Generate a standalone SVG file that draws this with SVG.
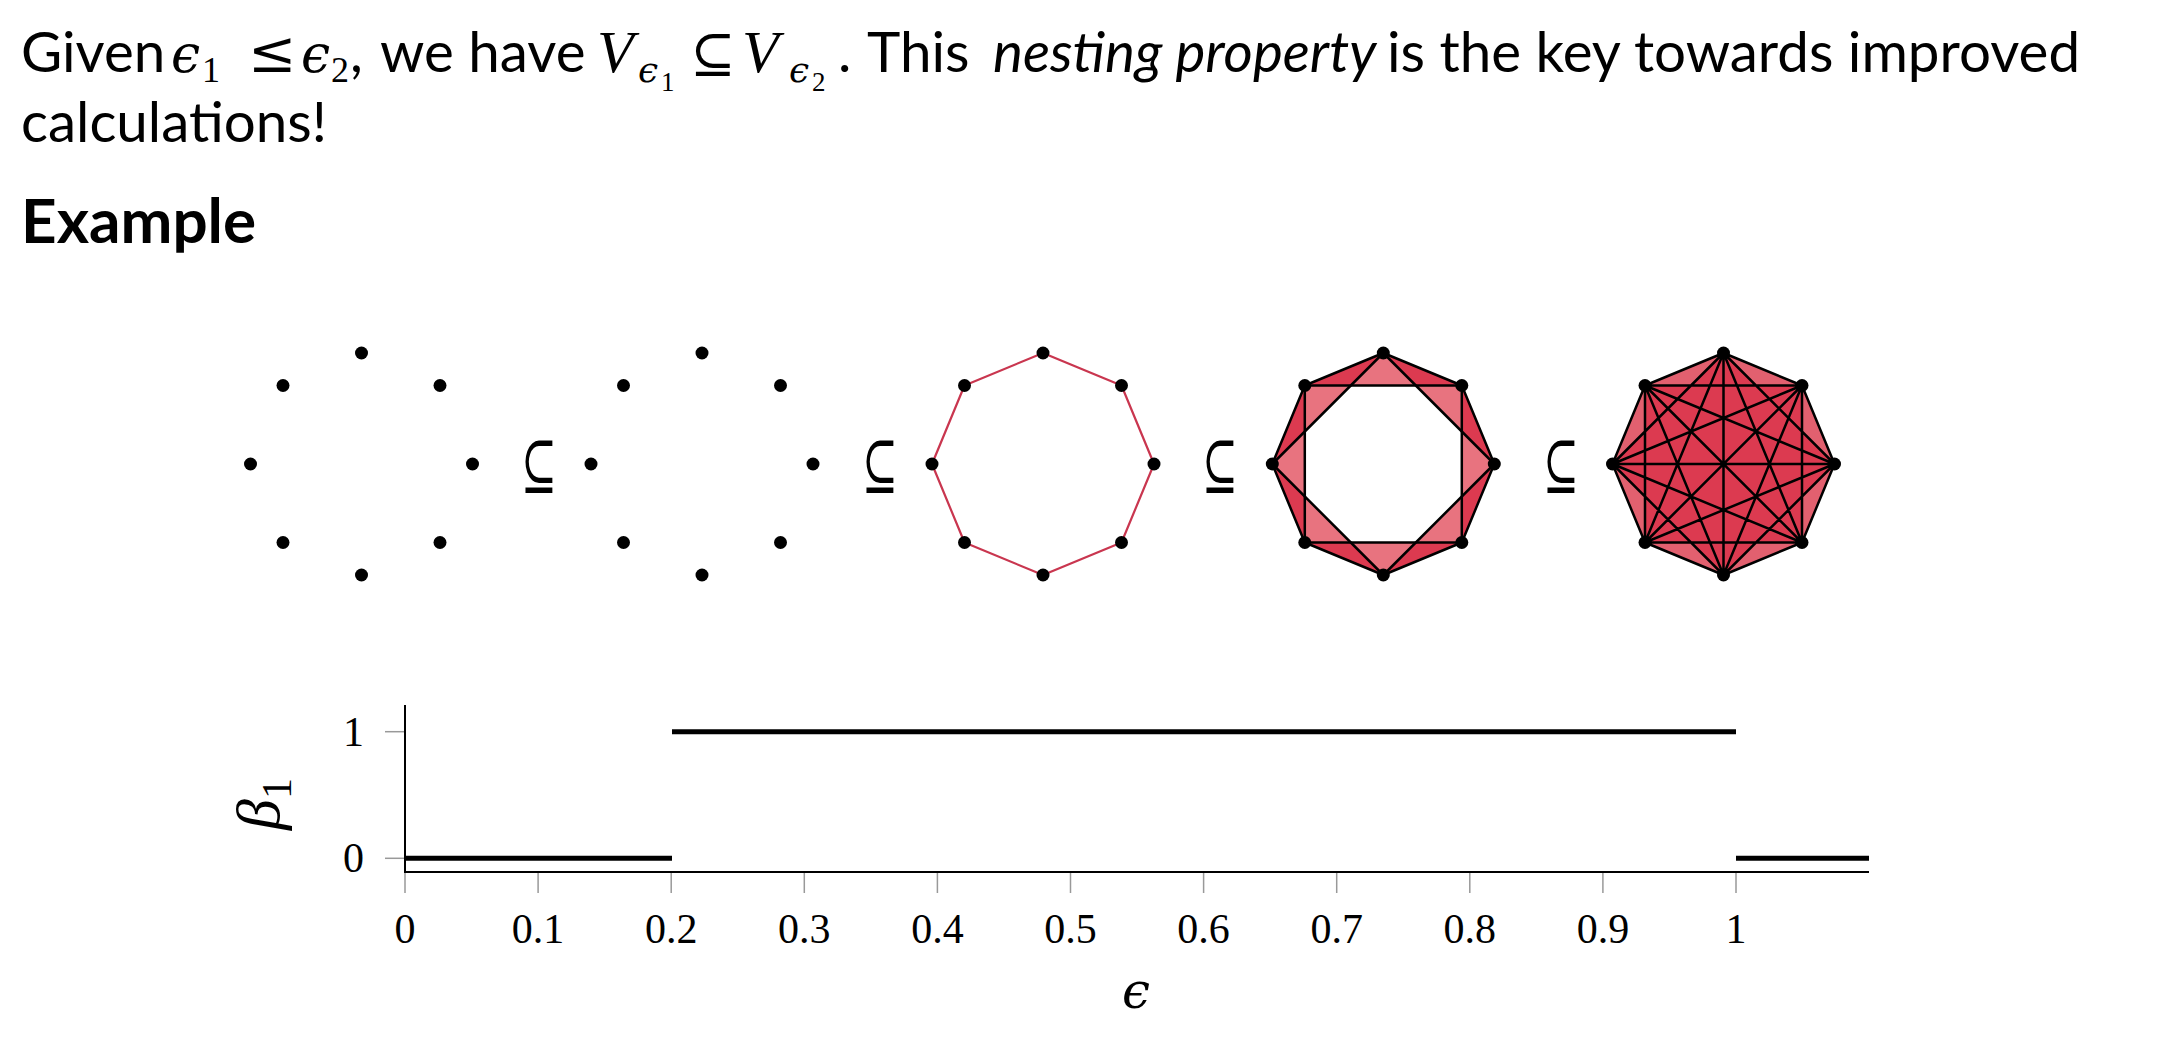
<svg xmlns="http://www.w3.org/2000/svg" width="2180" height="1038" viewBox="0 0 2180 1038">
<style>
.t{font-family:Lato,"Noto Sans",sans-serif;font-size:56.5px;fill:#000}
.b{font-family:Lato,"Noto Sans",sans-serif;font-weight:bold;font-size:62px;fill:#000}
.m{font-family:"Liberation Serif","DejaVu Serif",serif}
.g{font-family:"DejaVu Serif","Liberation Serif",serif}
.it{font-style:italic}
.sub{font-size:36px}
.ss{font-size:27px}
.sq{font-family:"DejaVu Serif","Liberation Serif",serif;font-size:68px;fill:#000}
.edge{fill:none;stroke:#000;stroke-width:2.5;stroke-linejoin:round}
.redge{fill:none;stroke:#C9364F;stroke-width:2.2;stroke-linejoin:round}
.light{fill:#E8737F}
.dark{fill:#DC3A50}
.white{fill:#fff}
.tick{stroke:#999;stroke-width:1.5}
.axis{stroke:#000;stroke-width:2;fill:none}
.step{stroke:#000;stroke-width:5}
.lbl{font-family:"Liberation Serif","DejaVu Serif",serif;font-size:42px;fill:#000}
</style>
<defs>
<g id="dots">
<circle cx="0" cy="-111" r="6.5"/><circle cx="78.5" cy="-78.5" r="6.5"/><circle cx="111" cy="0" r="6.5"/><circle cx="78.5" cy="78.5" r="6.5"/>
<circle cx="0" cy="111" r="6.5"/><circle cx="-78.5" cy="78.5" r="6.5"/><circle cx="-111" cy="0" r="6.5"/><circle cx="-78.5" cy="-78.5" r="6.5"/>
</g>
<polygon id="oct" points="0,-111 78.5,-78.5 111,0 78.5,78.5 0,111 -78.5,78.5 -111,0 -78.5,-78.5"/>
<path id="rim" d="M0,-111 L78.5,-78.5 L32.5,-78.5 Z M78.5,-78.5 L111,0 L78.5,-32.5 Z M111,0 L78.5,78.5 L78.5,32.5 Z M78.5,78.5 L0,111 L32.5,78.5 Z M0,111 L-78.5,78.5 L-32.5,78.5 Z M-78.5,78.5 L-111,0 L-78.5,32.5 Z M-111,0 L-78.5,-78.5 L-78.5,-32.5 Z M-78.5,-78.5 L0,-111 L-32.5,-78.5 Z"/>
</defs>
<rect width="2180" height="1038" fill="#fff"/>

<g id="header">
<text class="t" y="72"><tspan x="21">Given</tspan><tspan class="g it" x="171" font-size="52">ϵ</tspan><tspan class="m sub" x="202" y="82">1</tspan><tspan class="g" x="248" y="72" font-size="58">≤</tspan><tspan class="g it" x="301" font-size="52">ϵ</tspan><tspan class="m sub" x="331" y="82">2</tspan><tspan x="350" y="72">,</tspan><tspan x="380">we have</tspan><tspan class="m it" x="597" font-size="60">V</tspan><tspan class="g it sub" x="638" y="82">ϵ</tspan><tspan class="m ss" x="661" y="91">1</tspan><tspan class="g" x="690" y="72" font-size="54">⊆</tspan><tspan class="m it" x="742" font-size="60">V</tspan><tspan class="g it sub" x="789" y="82">ϵ</tspan><tspan class="m ss" x="812" y="91">2</tspan><tspan x="838" y="72">.</tspan><tspan x="867">This</tspan><tspan class="it" x="993">nesting property</tspan><tspan x="1387">is the key towards improved</tspan></text>
<text class="t" x="21" y="142">calculations!</text>
<text class="b" x="21" y="243">Example</text>
</g>

<g id="complex1" transform="translate(361.5,464)">
<use href="#dots"/>
</g>
<g id="subset1"><text class="sq" x="521" y="488" textLength="36" lengthAdjust="spacingAndGlyphs">⊆</text></g>

<g id="complex2" transform="translate(702,464)">
<use href="#dots"/>
</g>
<g id="subset2"><text class="sq" x="862" y="488" textLength="36" lengthAdjust="spacingAndGlyphs">⊆</text></g>

<g id="complex3" transform="translate(1043,464)">
<use href="#oct" class="redge"/>
<use href="#dots"/>
</g>
<g id="subset3"><text class="sq" x="1202" y="488" textLength="36" lengthAdjust="spacingAndGlyphs">⊆</text></g>

<g id="complex4" transform="translate(1383.3,464)">
<use href="#oct" class="light"/>
<polygon class="white" points="32.5,-78.5 78.5,-32.5 78.5,32.5 32.5,78.5 -32.5,78.5 -78.5,32.5 -78.5,-32.5 -32.5,-78.5"/>
<use href="#rim" class="dark"/>
<use href="#oct" class="edge"/>
<polygon class="edge" points="78.5,-78.5 78.5,78.5 -78.5,78.5 -78.5,-78.5"/>
<polygon class="edge" points="0,-111 111,0 0,111 -111,0"/>
<use href="#dots"/>
</g>
<g id="subset4"><text class="sq" x="1543" y="488" textLength="36" lengthAdjust="spacingAndGlyphs">⊆</text></g>

<g id="complex5" transform="translate(1723.5,464)">
<use href="#oct" class="dark"/>
<use href="#rim" fill="#E2606F"/>
<path class="edge" d="M0,-111 L78.5,-78.5 M0,-111 L111,0 M0,-111 L78.5,78.5 M0,-111 L0,111 M0,-111 L-78.5,78.5 M0,-111 L-111,0 M0,-111 L-78.5,-78.5 M78.5,-78.5 L111,0 M78.5,-78.5 L78.5,78.5 M78.5,-78.5 L0,111 M78.5,-78.5 L-78.5,78.5 M78.5,-78.5 L-111,0 M78.5,-78.5 L-78.5,-78.5 M111,0 L78.5,78.5 M111,0 L0,111 M111,0 L-78.5,78.5 M111,0 L-111,0 M111,0 L-78.5,-78.5 M78.5,78.5 L0,111 M78.5,78.5 L-78.5,78.5 M78.5,78.5 L-111,0 M78.5,78.5 L-78.5,-78.5 M0,111 L-78.5,78.5 M0,111 L-111,0 M0,111 L-78.5,-78.5 M-78.5,78.5 L-111,0 M-78.5,78.5 L-78.5,-78.5 M-111,0 L-78.5,-78.5"/>
<use href="#dots"/>
</g>

<g id="plot">
<g class="tick">
<line x1="385" y1="731.7" x2="405" y2="731.7"/><line x1="385" y1="858.3" x2="405" y2="858.3"/>
<line x1="405" y1="872" x2="405" y2="893"/><line x1="538.1" y1="872" x2="538.1" y2="893"/><line x1="671.2" y1="872" x2="671.2" y2="893"/><line x1="804.3" y1="872" x2="804.3" y2="893"/><line x1="937.4" y1="872" x2="937.4" y2="893"/><line x1="1070.5" y1="872" x2="1070.5" y2="893"/><line x1="1203.6" y1="872" x2="1203.6" y2="893"/><line x1="1336.7" y1="872" x2="1336.7" y2="893"/><line x1="1469.8" y1="872" x2="1469.8" y2="893"/><line x1="1602.9" y1="872" x2="1602.9" y2="893"/><line x1="1736" y1="872" x2="1736" y2="893"/>
</g>
<path class="axis" d="M405,705 L405,872 L1869,872"/>
<g class="step">
<line x1="405" y1="858.3" x2="672" y2="858.3"/>
<line x1="672" y1="731.7" x2="1736" y2="731.7"/>
<line x1="1736" y1="858.3" x2="1869" y2="858.3"/>
</g>
<g class="lbl" text-anchor="end">
<text x="364" y="746">1</text><text x="364" y="872">0</text>
</g>
<g class="lbl" text-anchor="middle">
<text x="405" y="943">0</text><text x="538.1" y="943">0.1</text><text x="671.2" y="943">0.2</text><text x="804.3" y="943">0.3</text><text x="937.4" y="943">0.4</text><text x="1070.5" y="943">0.5</text><text x="1203.6" y="943">0.6</text><text x="1336.7" y="943">0.7</text><text x="1469.8" y="943">0.8</text><text x="1602.9" y="943">0.9</text><text x="1736" y="943">1</text>
</g>
<text class="lbl" transform="translate(279,830) rotate(-90)"><tspan class="it" font-size="62">β</tspan><tspan dy="12" font-size="42">1</tspan></text>
<text class="g it" x="1136" y="1008" font-size="50" text-anchor="middle">ϵ</text>
</g>
</svg>
